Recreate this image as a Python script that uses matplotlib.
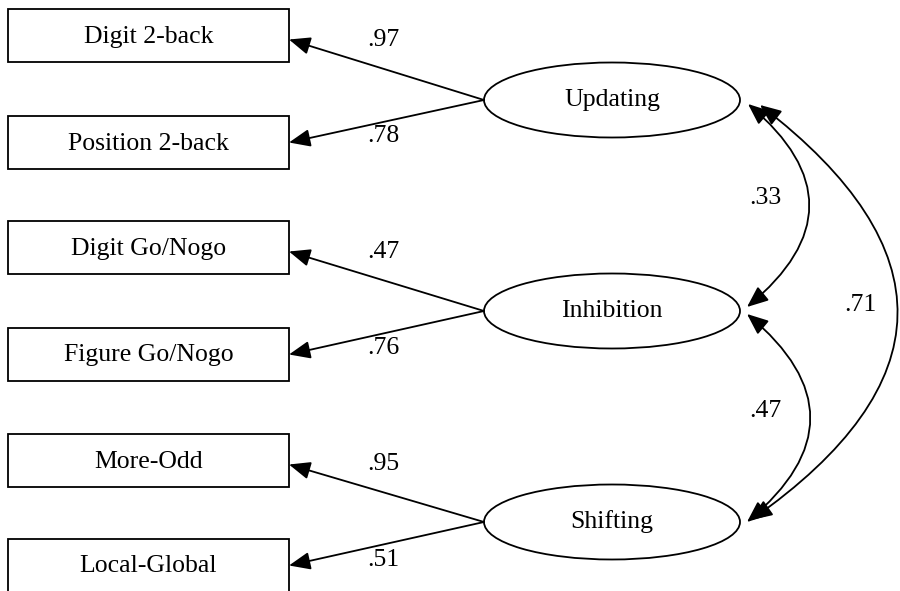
import matplotlib.pyplot as plt
from matplotlib.patches import Rectangle, Ellipse, FancyArrowPatch

# Datos del diagrama
indicadores = ['Digit 2-back', 'Position 2-back', 'Digit Go/Nogo',
               'Figure Go/Nogo', 'More-Odd', 'Local-Global']
cargas = ['.97', '.78', '.47', '.76', '.95', '.51']
factores = ['Updating', 'Inhibition', 'Shifting']
# correlaciones entre factores: (factor a, factor b, valor)
correlaciones = [(0, 1, '.33'), (1, 2, '.47'), (0, 2, '.71')]

fig = plt.figure(figsize=(9, 5.91), dpi=100)
ax = fig.add_axes([0, 0, 1, 1])
ax.set_xlim(0, 900)
ax.set_ylim(591, 0)
ax.axis('off')

fuente = dict(family='Liberation Serif', fontsize=18.5)
lw = 1.3
cabeza = 'head_length=0.65,head_width=0.27'

# Cajas de los indicadores
caja_x, caja_w, caja_h = 8, 281, 53
caja_y = [9, 116, 221, 328, 434, 539]
for nombre, y in zip(indicadores, caja_y):
    ax.add_patch(Rectangle((caja_x, y), caja_w, caja_h, fill=False,
                           edgecolor='black', linewidth=lw))
    ax.text(caja_x + caja_w / 2, y + caja_h / 2 + 7, nombre,
            ha='center', va='baseline', **fuente)

# Elipses de los factores
elip_cx, elip_w, elip_h = 612, 256, 75
elip_cy = [100, 311, 522]
for nombre, cy in zip(factores, elip_cy):
    ax.add_patch(Ellipse((elip_cx, cy), elip_w, elip_h, fill=False,
                         edgecolor='black', linewidth=lw))
    ax.text(elip_cx, cy + 6, nombre, ha='center', va='baseline', **fuente)

# Flechas de carga factorial
izq = elip_cx - elip_w / 2
for i, carga in enumerate(cargas):
    f = i // 2
    cy = elip_cy[f]
    arriba = i % 2 == 0
    ty = caja_y[i] + caja_h / 2 + (4 if arriba else 0)
    ax.add_patch(FancyArrowPatch((izq, cy), (caja_x + caja_w, ty),
                                 arrowstyle='-|>,' + cabeza, mutation_scale=20,
                                 color='black', linewidth=lw,
                                 shrinkA=0, shrinkB=0))
    ly = ty if arriba else ty - 6
    ax.text(383, ly, carga, ha='center', va='center', **fuente)

# Correlaciones (flechas curvas de doble punta)
ajustes = {
    (0, 1): ((748, 104), (747, 307), -0.6, (765, 198)),
    (1, 2): ((747, 314), (747, 522), -0.6, (765, 411)),
    (0, 2): ((760, 105), (751, 520), -0.68, (860, 305)),
}
for a, b, valor in correlaciones:
    p0, p1, rad, pos = ajustes[(a, b)]
    ax.add_patch(FancyArrowPatch(p0, p1,
                                 arrowstyle='<|-|>,' + cabeza,
                                 connectionstyle=f'arc3,rad={rad}',
                                 mutation_scale=20, color='black',
                                 linewidth=lw, shrinkA=0, shrinkB=0))
    ax.text(pos[0], pos[1], valor, ha='center', va='center', **fuente)

fig.savefig('out.png', dpi=100)
